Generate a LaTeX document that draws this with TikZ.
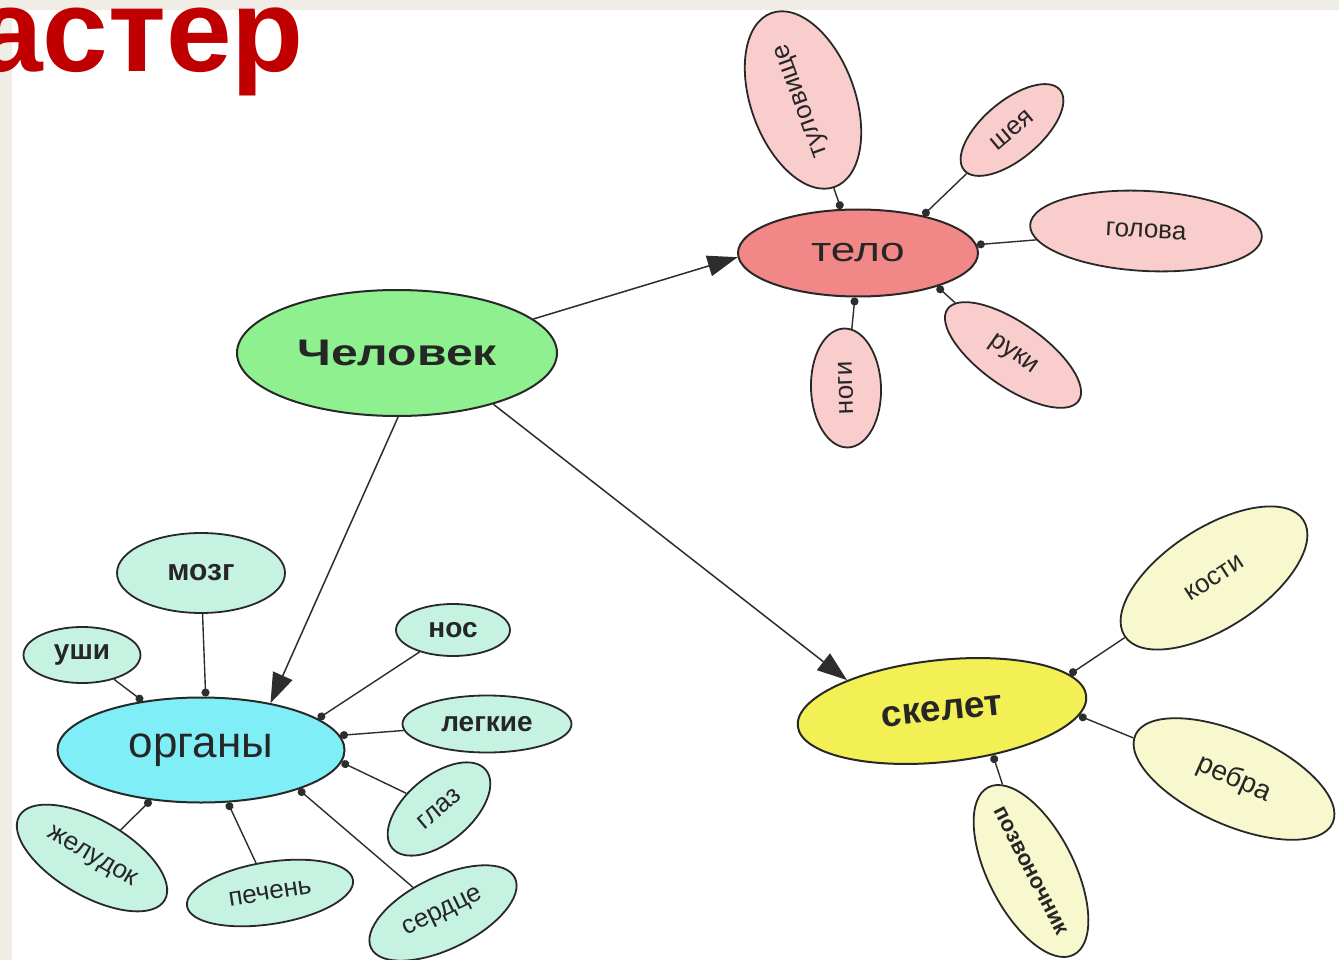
\documentclass[tikz,border=0pt]{standalone}
\usepackage{fontspec}
\setmainfont{Liberation Sans}
\newfontfamily\widesans[FakeStretch=1.3]{Liberation Sans}
\usetikzlibrary{shapes.geometric,arrows.meta}

\definecolor{pagebg}{RGB}{240,236,230}
\definecolor{titlered}{RGB}{192,0,0}
\definecolor{edgec}{RGB}{40,40,40}
\definecolor{linec}{RGB}{45,45,45}
\definecolor{mangreen}{RGB}{142,240,142}
\definecolor{telored}{RGB}{242,135,135}
\definecolor{pinkleaf}{RGB}{250,205,205}
\definecolor{orgcyan}{RGB}{128,238,246}
\definecolor{mintleaf}{RGB}{198,242,226}
\definecolor{skelyellow}{RGB}{242,240,84}
\definecolor{creamleaf}{RGB}{248,248,206}

\newcommand\fs[1]{\fontsize{#1}{#1}\selectfont}

\tikzset{
  bubble/.style={ellipse, draw=edgec, line width=1.8pt, inner sep=0pt, text=black!85},
  hub/.style={bubble, line width=2pt},
  telleaf/.style={bubble, fill=pinkleaf},
  orgleaf/.style={bubble, fill=mintleaf},
  skelleaf/.style={bubble, fill=creamleaf},
  link/.style={draw=linec, line width=1.4pt, -{Circle[length=8pt]}},
  mainarrow/.style={draw=linec, line width=1.5pt, -{Triangle[length=30pt,width=21pt]}}
}

\begin{document}
\begin{tikzpicture}[x=1pt,y=-1pt]
\useasboundingbox (0,0) rectangle (1339,960);
\fill[pagebg] (0,0) rectangle (1339,960);
\fill[white] (12,10) rectangle (1339,960);

% central topic and its three branches
\node[hub, fill=mangreen, minimum width=320pt, minimum height=126pt] (man) at (397,353)
  {\widesans\fs{37}\bfseries Человек};
\node[hub, fill=telored, minimum width=240pt, minimum height=87pt] (telo) at (858,253)
  {\widesans\fs{34}тело};
\node[hub, fill=orgcyan, minimum width=287pt, minimum height=105pt] (organs) at (201,750)
  {\fs{44}органы};
\node[hub, fill=skelyellow, minimum width=290pt, minimum height=102pt, rotate=6] (skel) at (942,711)
  {\fs{37}\bfseries скелет};

% body parts
\node[telleaf, minimum width=185pt, minimum height=104pt, rotate=110] (tul) at (803,100) {\fs{26}туловище};
\node[telleaf, minimum width=125pt, minimum height=58pt, rotate=40] (neck) at (1012,130) {\fs{26}шея};
\node[telleaf, minimum width=232pt, minimum height=80pt, rotate=-3] (head) at (1146,231) {\fs{26}голова};
\node[telleaf, minimum width=160pt, minimum height=64pt, rotate=-35] (arms) at (1013,355) {\fs{26}руки};
\node[telleaf, minimum width=119pt, minimum height=70pt, rotate=92] (legs) at (846,388) {\fs{26}ноги};

% organs
\node[orgleaf, minimum width=168pt, minimum height=80pt] (brain) at (201,573) {\fs{30}\bfseries мозг};
\node[orgleaf, minimum width=117pt, minimum height=56pt] (ears) at (82,655) {\fs{28}\bfseries уши};
\node[orgleaf, minimum width=114pt, minimum height=52pt] (nose) at (453,630) {\fs{28}\bfseries нос};
\node[orgleaf, minimum width=169pt, minimum height=57pt] (lungs) at (487,724) {\fs{28}\bfseries легкие};
\node[orgleaf, minimum width=122pt, minimum height=66pt, rotate=40] (eye) at (439,809) {\fs{26}глаз};
\node[orgleaf, minimum width=160pt, minimum height=72pt, rotate=26] (heart) at (443,913) {\fs{26}сердце};
\node[orgleaf, minimum width=168pt, minimum height=62pt, rotate=9] (liver) at (270,893) {\fs{26}печень};
\node[orgleaf, minimum width=168pt, minimum height=76pt, rotate=-30] (stomach) at (92,858) {\fs{26}желудок};

% skeleton
\node[skelleaf, minimum width=213pt, minimum height=100pt, rotate=33] (bones) at (1214,578) {\fs{26}кости};
\node[skelleaf, minimum width=216pt, minimum height=92pt, rotate=-24] (ribs) at (1234,779) {\fs{28}ребра};
\node[skelleaf, minimum width=188pt, minimum height=86pt, rotate=-63, inner xsep=-30pt] (spine) at (1031,871) {\fs{22}\bfseries позвоночник};

% branches from the central topic
\draw[mainarrow] (man.14) -- (telo.182);
\draw[mainarrow] (man.-89) -- (organs.34);
\draw[mainarrow] (man.-28) -- (skel.156);

% leaves joined to their branch
\draw[link] (tul) -- (telo.111);
\draw[link] (neck) -- (telo.30);
\draw[link] (head) -- (telo.4);
\draw[link] (arms) -- (telo.-23);
\draw[link] (legs) -- (telo.-94);

\draw[link] (brain) -- (organs.85);
\draw[link] (ears) -- (organs.140);
\draw[link] (nose) -- (organs.15);
\draw[link] (lungs) -- (organs.6);
\draw[link] (eye) -- (organs.-5);
\draw[link] (heart) -- (organs.-22);
\draw[link] (liver) -- (organs.-63);
\draw[link] (stomach) -- (organs.-135);

\draw[link] (bones) -- (skel.10);
\draw[link] (ribs) -- (skel.-8);
\draw[link] (spine) -- (skel.-47);

% heading
\node[anchor=base west, inner sep=0pt, text=titlered, font=\fs{118}\bfseries] (title) at (-23,72) {астер};
\end{tikzpicture}
\end{document}
